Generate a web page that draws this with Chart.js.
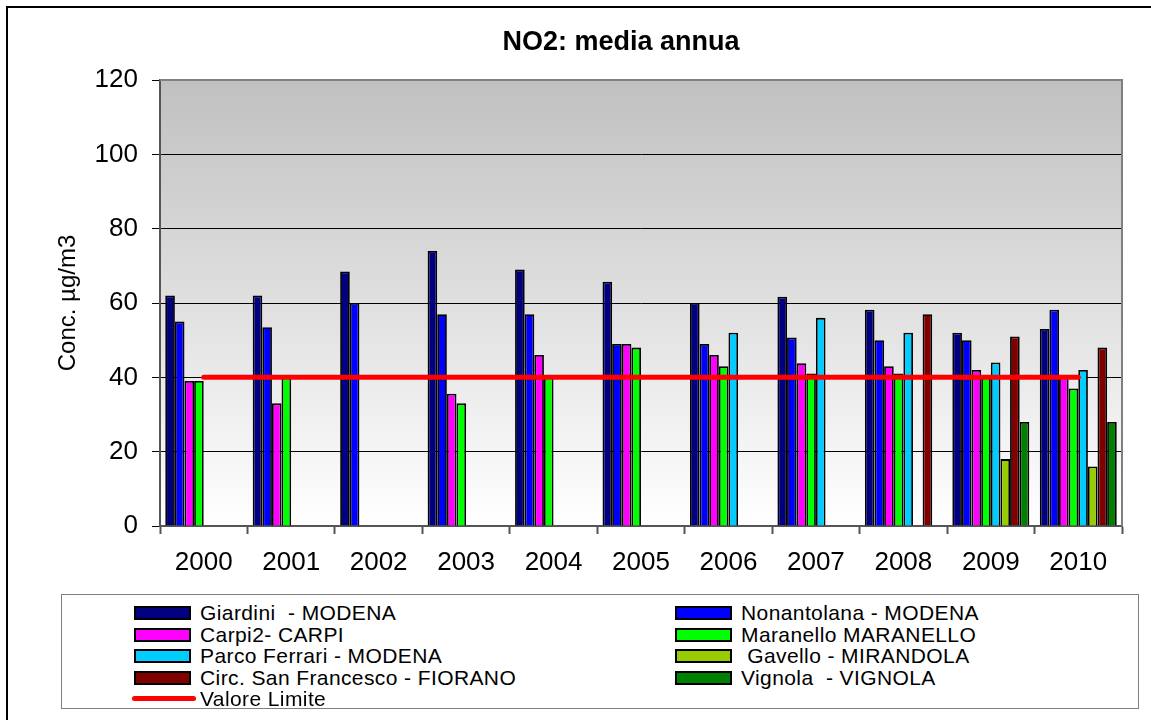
<!DOCTYPE html>
<html lang="it">
<head>
  <meta charset="UTF-8">
  <title>NO2: media annua</title>
  <script src="https://cdn.jsdelivr.net/npm/chart.js"></script>
  <style>
    html, body { margin: 0; padding: 0; background: #fff; }
    #wrap { position: relative; width: 1151px; height: 720px; overflow: hidden; font-family: "Liberation Sans", Arial, sans-serif; }
    #frame { position: absolute; left: 6px; top: 6px; width: 1300px; height: 900px; border: 2px solid #000; }
    canvas { position: absolute; left: 0; top: 0; }
    #legend { position: absolute; left: 61px; top: 594px; width: 1076px; height: 113px; border: 1px solid #808080; background: #fff; }
    .item { position: absolute; height: 21px; line-height: 21px; font-size: 21px; letter-spacing: 0.4px; white-space: pre; color: #000; }
    .sw { position: absolute; top: 4px; width: 53px; height: 10px; border: 2px solid #000; }
    .ln { position: absolute; top: 8px; width: 64px; height: 5px; border-radius: 3px; background: #ff0000; }
  </style>
</head>
<body>
  <div id="wrap">
    <div id="frame"></div>
    <canvas id="no2Chart" width="1151" height="720"></canvas>
    <div id="legend"></div>
  </div>

  <script>
    const years = ["2000", "2001", "2002", "2003", "2004", "2005", "2006", "2007", "2008", "2009", "2010"];
    const yTicks = [0, 20, 40, 60, 80, 100, 120];

    const giardini     = [62, 62, 68.5, 74, 69, 65.7, 60, 61.7, 58.2, 52, 53];
    const nonantolana  = [55, 53.5, 60, 57, 57, 49, 49, 50.7, 50, 50, 58.2];
    const carpi        = [39, 33, null, 35.6, 46, 49, 46, 43.8, 43, 42, 40];
    const maranello    = [39, 40, null, 33, 40, 48, 43, 41, 41, 40, 37];
    const parcoFerrari = [null, null, null, null, null, null, 52, 56, 52, 44, 42];
    const gavello      = [null, null, null, null, null, null, null, null, null, 18, 16];
    const circFiorano  = [null, null, null, null, null, null, null, null, 57, 51, 48];
    const vignola      = [null, null, null, null, null, null, null, null, null, 28, 28];
    const valoreLimite = [40, 40, 40, 40, 40, 40, 40, 40, 40, 40, 40];

    const series = [
      ["Giardini  - MODENA", giardini, "#000080"],
      ["Nonantolana - MODENA", nonantolana, "#0000ff"],
      ["Carpi2- CARPI", carpi, "#ff00ff"],
      ["Maranello MARANELLO", maranello, "#00ff00"],
      ["Parco Ferrari - MODENA", parcoFerrari, "#00ccff"],
      [" Gavello - MIRANDOLA", gavello, "#99cc00"],
      ["Circ. San Francesco - FIORANO", circFiorano, "#800000"],
      ["Vignola  - VIGNOLA", vignola, "#008000"]
    ];

    const datasets = series.map(([label, data, color]) => ({
      type: "bar",
      label,
      data,
      backgroundColor: color,
      borderColor: "#000",
      borderWidth: 1.8,
      categoryPercentage: 0.88,
      barPercentage: 1,
      order: 2
    }));
    datasets.push({
      type: "line",
      label: "Valore Limite",
      data: valoreLimite,
      borderColor: "#ff0000",
      borderWidth: 5,
      borderCapStyle: "round",
      pointRadius: 0,
      fill: false,
      order: 1
    });

    // plot background gradient + gray border on top/right + title
    const plotDeco = {
      id: "plotDeco",
      beforeDraw(chart) {
        const { ctx, chartArea: a } = chart;
        const g = ctx.createLinearGradient(0, a.top, 0, a.bottom);
        g.addColorStop(0, "#c0c0c0");
        g.addColorStop(1, "#ffffff");
        ctx.save();
        ctx.fillStyle = g;
        ctx.fillRect(a.left, a.top, a.right - a.left, a.bottom - a.top);
        ctx.restore();
      },
      afterDraw(chart) {
        const { ctx, chartArea: a } = chart;
        ctx.save();
        ctx.strokeStyle = "#808080";
        ctx.lineWidth = 2;
        ctx.beginPath();
        ctx.moveTo(a.left, a.top);
        ctx.lineTo(a.right, a.top);
        ctx.lineTo(a.right, a.bottom);
        ctx.stroke();
        ctx.fillStyle = "#000";
        ctx.font = "bold 27px 'Liberation Sans', Arial, sans-serif";
        ctx.textAlign = "center";
        ctx.textBaseline = "middle";
        ctx.fillText("NO2: media annua", 621, 43);
        ctx.restore();
      }
    };

    new Chart(document.getElementById("no2Chart"), {
      data: { labels: years, datasets },
      plugins: [plotDeco],
      options: {
        responsive: false,
        animation: false,
        layout: { padding: { left: 8, top: 80, right: 29, bottom: 130 } },
        plugins: { legend: { display: false }, tooltip: { enabled: false } },
        scales: {
          x: {
            offset: true,
            afterFit: s => { s.height = 64; },
            border: { color: "#555", width: 2 },
            grid: { offset: true, drawOnChartArea: false, tickLength: 8, tickColor: "#555", tickWidth: 2 },
            ticks: { color: "#000", padding: 13, font: { family: "'Liberation Sans', Arial, sans-serif", size: 26 } }
          },
          y: {
            min: 0,
            max: 120,
            afterFit: s => { s.width = 152; },
            afterBuildTicks: s => { s.ticks = yTicks.map(v => ({ value: v })); },
            border: { color: "#555", width: 2 },
            grid: { color: "#000", lineWidth: 1, tickLength: 8, tickColor: "#000" },
            ticks: { color: "#000", padding: 14, font: { family: "'Liberation Sans', Arial, sans-serif", size: 26 } },
            title: {
              display: true,
              text: "Conc. µg/m3",
              color: "#000",
              padding: { top: 46, bottom: 0 },
              font: { family: "'Liberation Sans', Arial, sans-serif", size: 24 }
            }
          }
        }
      }
    });

    // legend, two columns in reading order
    const legend = document.getElementById("legend");
    const items = series.map(([label, , color]) => ({ label, color })).concat([{ label: "Valore Limite", line: true }]);
    items.forEach((it, i) => {
      const col = i % 2, row = Math.floor(i / 2);
      const el = document.createElement("div");
      el.className = "item";
      el.style.left = (col ? 613 : 72) + "px";
      el.style.top = (7 + row * 21.5) + "px";
      const mark = document.createElement("div");
      if (it.line) {
        mark.className = "ln";
        mark.style.left = "-2px";
      } else {
        mark.className = "sw";
        mark.style.background = it.color;
      }
      el.appendChild(mark);
      const txt = document.createElement("span");
      txt.style.marginLeft = "66px";
      txt.textContent = it.label;
      el.appendChild(txt);
      legend.appendChild(el);
    });
  </script>
</body>
</html>
